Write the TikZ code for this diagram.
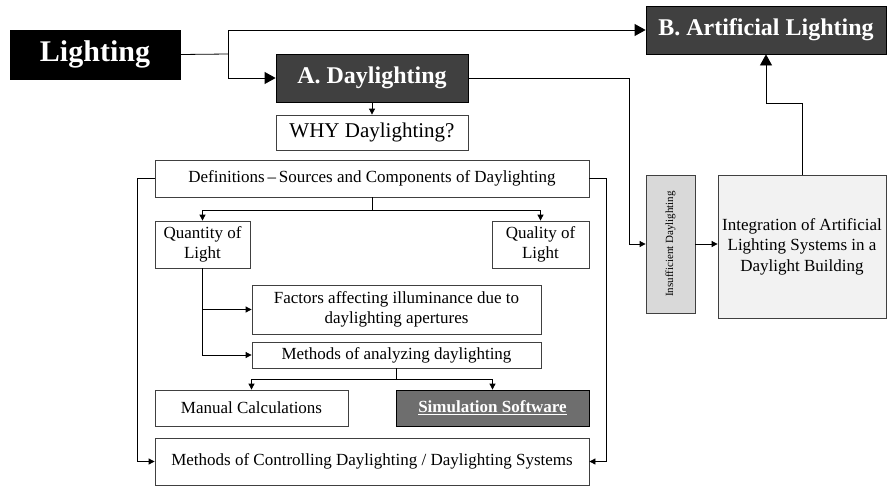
\documentclass[tikz,border=0pt]{standalone}
\usepackage{fontspec}
\setmainfont{Liberation Serif}
\usepackage{xcolor}
\usepackage{tikz}
\usetikzlibrary{arrows.meta}

\definecolor{darkbox}{HTML}{404040}
\definecolor{simbox}{HTML}{6E6E6E}
\definecolor{insufbox}{HTML}{D9D9D9}
\definecolor{integbox}{HTML}{F2F2F2}

\begin{document}
\begin{tikzpicture}[x=1pt,y=-1pt,line width=0.8pt,
    box/.style={draw=black!75,fill=white,inner sep=0pt,align=center,
      font=\fontsize{17}{20.5}\selectfont},
    headbox/.style={box,draw=black,fill=darkbox,text=white,
      font=\fontsize{24}{28}\selectfont\bfseries},
    arr/.style={-{Triangle[length=6pt,width=6pt]}},
    bigarr/.style={-{Triangle[length=11pt,width=12pt]}}]
      \useasboundingbox (0,0) rectangle (887,488);
      % main headings
      \node[headbox,fill=black,minimum width=170pt,minimum height=49pt,
        font=\fontsize{30}{34}\selectfont\bfseries] (light) at (95,54.5) {Lighting};
      \node[headbox,minimum width=192pt,minimum height=48pt] (dayl) at (372,78) {A. Daylighting};
      \node[headbox,minimum width=240pt,minimum height=48pt] (artif) at (766,30) {B. Artificial Lighting};
      % daylighting branch
      \node[box,minimum width=192pt,minimum height=35pt,
        font=\fontsize{21}{25}\selectfont] (why) at (372,132.5) {WHY Daylighting?};
      \node[box,minimum width=434pt,minimum height=37pt] (defs) at (372,178.5)
        {Definitions\,--\,Sources and Components of Daylighting};
      \node[box,minimum width=95pt,minimum height=47pt] (quant) at (202.5,244.5) {Quantity of\\Light};
      \node[box,minimum width=97pt,minimum height=47pt] (qual) at (540.5,244.5) {Quality of\\Light};
      \node[box,minimum width=289pt,minimum height=49pt] (factors) at (396.5,309.5)
        {Factors affecting illuminance due to\\daylighting apertures};
      \node[box,minimum width=289pt,minimum height=26pt] (analyz) at (396.5,355) {Methods of analyzing daylighting};
      \node[box,minimum width=193pt,minimum height=36pt] (manual) at (251.5,408) {Manual Calculations};
      \node[box,draw=black,fill=simbox,text=white,minimum width=193pt,minimum height=36pt,
        font=\fontsize{17}{20.5}\selectfont\bfseries] (simul) at (492.5,408) {\underline{Simulation Software}};
      \node[box,minimum width=434pt,minimum height=47pt] (ctrl) at (372,461.5)
        {Methods of Controlling Daylighting / Daylighting Systems};
      % artificial lighting branch
      \node[box,fill=insufbox,minimum width=49pt,minimum height=138pt,
        font=\fontsize{11}{13}\selectfont] (insuf) at (670.5,244) {\rotatebox{90}{Insufficient Daylighting}};
      \node[box,fill=integbox,minimum width=168pt,minimum height=143pt] (integ) at (802,246.5)
        {Integration of Artificial\\Lighting Systems in a\\Daylight Building};
      % connectors
      \coordinate (split) at (228,54);
      \draw (light.east) -- (split);
      \draw[bigarr] (split) |- (artif.west);
      \draw[bigarr] (split) |- (dayl.west);
      \draw[arr] (dayl.south) -- (why.north);
      \coordinate (dturn) at (629,78);
      \draw[arr] (dayl.east) -- (dturn) |- (insuf.west);
      \draw[arr] (insuf.east) -- (insuf.east -| integ.west);
      \coordinate (iturn) at (766,103);
      \draw[bigarr] (integ.north) |- (iturn) -- (artif.south);
      \coordinate (dsplit) at (372,210);
      \draw (defs.south) -- (dsplit);
      \foreach \n in {quant,qual}
        \draw[arr] (dsplit) -| (\n.north);
      \foreach \n in {factors,analyz}
        \draw[arr] (quant.south) |- (\n.west);
      \coordinate (asplit) at (396.5,379);
      \draw (analyz.south) -- (asplit);
      \foreach \n in {manual,simul}
        \draw[arr] (asplit) -| (\n.north);
      \draw[arr] (defs.west) -- ++(-17,0) |- (ctrl.west);
      \draw[arr] (defs.east) -- ++(17,0) |- (ctrl.east);
    \end{tikzpicture}
\end{document}
